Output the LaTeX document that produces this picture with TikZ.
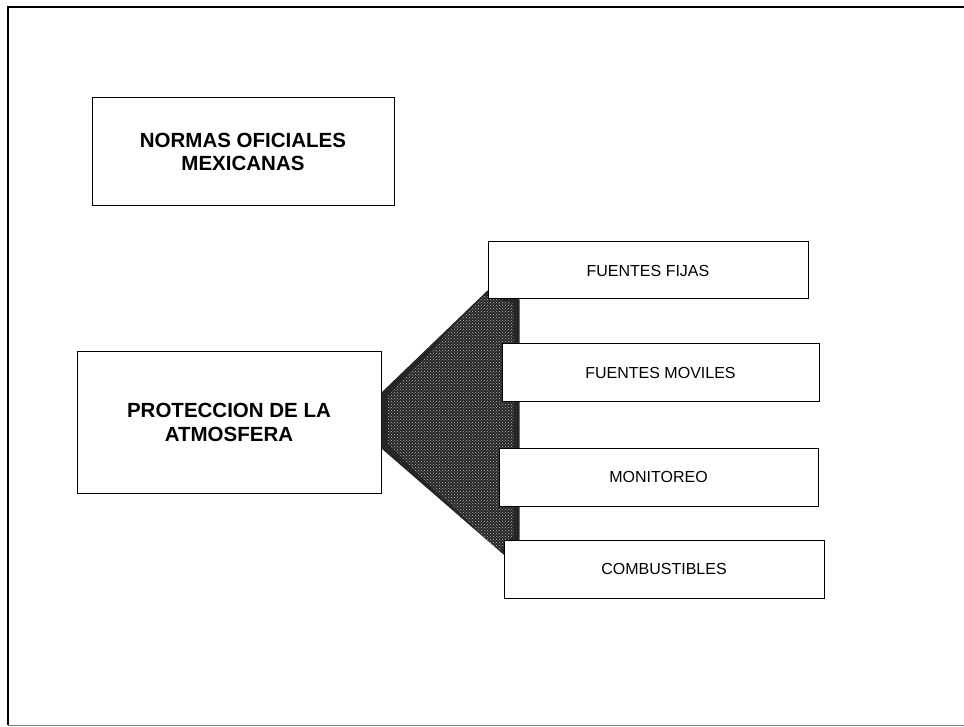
\documentclass[tikz,border=0pt]{standalone}
\usepackage{fontspec}
\setmainfont{Liberation Sans}
\usetikzlibrary{patterns}
\begin{document}
\begin{tikzpicture}[x=1pt,y=-1pt,
  bigbox/.style={draw,line width=1pt,fill=white,rectangle,inner sep=0pt,align=center,font=\fontsize{20.5}{23.5}\selectfont\bfseries},
  itembox/.style={draw,line width=1pt,fill=white,rectangle,inner sep=0pt,minimum height=57pt,font=\fontsize{16}{18}\selectfont}]
  \useasboundingbox (0,0) rectangle (964,727);
  \draw[line width=1.6pt] (964,7) -- (8,7) -- (8,725);
  \draw[gray,thin] (8,725) -- (964,725);
  \node[bigbox,minimum width=302pt,minimum height=108pt] (nom) at (243,152) {NORMAS OFICIALES\\MEXICANAS};
  \node[bigbox,minimum width=304pt,minimum height=141pt] (atm) at (229,422.5) {PROTECCION DE LA\\ATMOSFERA};
  \coordinate (fijasc) at (648,270.5);
  \coordinate (movc) at (660.5,372.5);
  \coordinate (monc) at (658.5,477);
  \coordinate (combc) at (664,569);
  \path (fijasc) node[itembox,minimum width=320pt] (fijas) {};
  \path (combc) node[itembox,minimum width=320pt,minimum height=58pt] (comb) {};
  \fill[black!85] ([yshift=30pt]atm.east) -- ([yshift=9pt]fijas.south west) -- ([xshift=32pt]fijas.south west)
    -- ([xshift=16pt]comb.north west) -- ([yshift=-15pt]comb.north west) -- ([yshift=-26pt]atm.east) -- cycle;
  \fill[pattern=crosshatch dots,pattern color=gray!55] ([xshift=6pt,yshift=26pt]atm.east) -- ([xshift=-4pt,yshift=4pt]fijas.south west)
    -- ([xshift=26pt,yshift=-4pt]fijas.south west) -- ([xshift=10pt,yshift=4pt]comb.north west)
    -- ([xshift=-4pt,yshift=-12pt]comb.north west) -- ([xshift=6pt,yshift=-22pt]atm.east) -- cycle;
  \node[itembox,minimum width=320pt] (fijas) at (fijasc) {FUENTES FIJAS};
  \node[itembox,minimum width=317pt,minimum height=58pt] (mov) at (movc) {FUENTES MOVILES};
  \node[itembox,minimum width=319pt,minimum height=58pt] (mon) at (monc) {MONITOREO};
  \node[itembox,minimum width=320pt,minimum height=58pt] (comb) at (combc) {COMBUSTIBLES};
\end{tikzpicture}
\end{document}
